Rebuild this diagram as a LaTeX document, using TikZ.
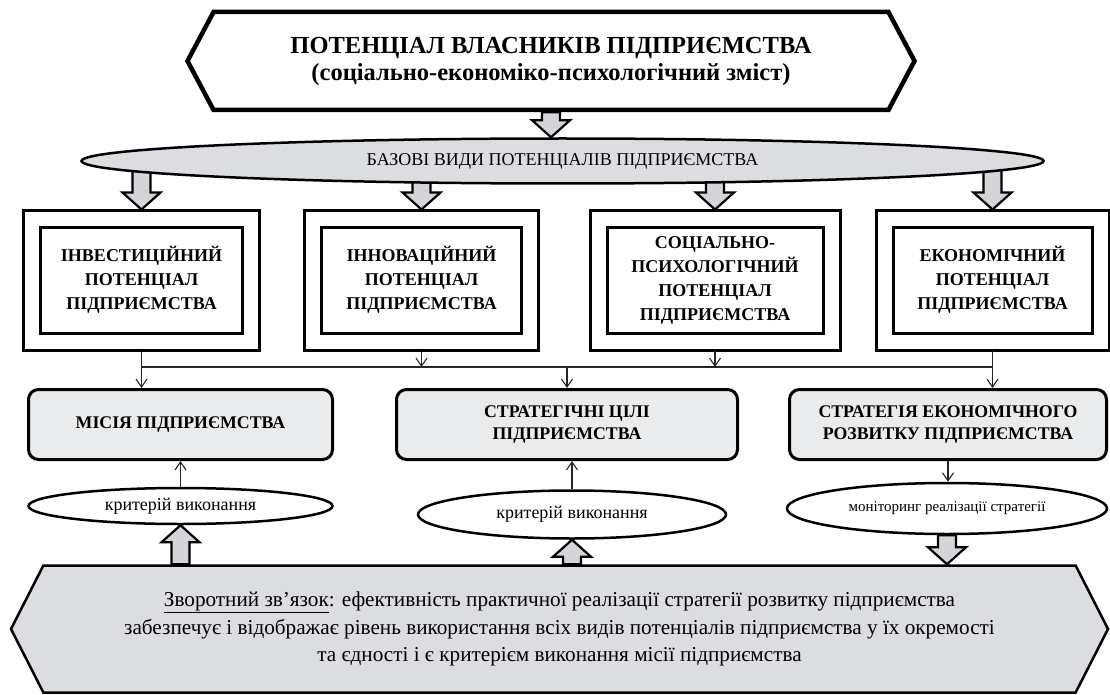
\documentclass[tikz,border=0pt]{standalone}
\usepackage{fontspec}
\setmainfont{Liberation Serif}
\usetikzlibrary{shapes, arrows.meta, positioning, calc, backgrounds}

\definecolor{lightgr}{RGB}{220,221,224}
\definecolor{boxgr}{RGB}{234,235,237}
\definecolor{arrgr}{RGB}{212,213,216}

\newcommand{\bigarrow}[2]{\draw[bigarr] let \p1=(#1), \p2=(#2), \p3=($(#2)!17pt!(#1)$) in
	(\x2-9pt,\y1) -- (\x2-9pt,\y3) -- (\x2-19pt,\y3) -- (\x2,\y2) -- (\x2+19pt,\y3) -- (\x2+9pt,\y3) -- (\x2+9pt,\y1) -- cycle;}

\tikzset{
	bigarr/.style={draw, line width=2.2pt, fill=arrgr},
	link/.style={draw=black!85, line width=1.1pt},
	linkto/.style={link, -{Straight Barb[length=8pt,width=11pt]}},
	head/.style={signal, signal to=west and east, draw, align=center},
	pot/.style={draw, line width=3pt, double, double distance=14pt, minimum width=#1, minimum height=123pt, outer sep=9pt, align=center, font=\fontsize{18}{24}\selectfont\bfseries},
	goal/.style={draw, line width=3pt, rounded corners=10pt, fill=boxgr, minimum width=#1, minimum height=70pt, align=center, font=\fontsize{17.8}{22.5}\selectfont\bfseries},
	crit/.style={ellipse, draw, line width=2.5pt, inner sep=0pt, font=\fontsize{18}{21}\selectfont}
}

\begin{document}
\begin{tikzpicture}[x=1pt, y=-1pt]
				\useasboundingbox (0,0) rectangle (1110,695);
				\node[head, signal pointer angle=124, line width=4.5pt, minimum width=727pt, minimum height=98pt, font=\fontsize{24.5}{27}\selectfont\bfseries] (top) at (551,61)
					{ПОТЕНЦІАЛ ВЛАСНИКІВ ПІДПРИЄМСТВА\\(соціально-економіко-психологічний зміст)};
				\node[crit, fill=lightgr, minimum width=962pt, minimum height=45pt] (base) at (562.5,161) {БАЗОВІ ВИДИ ПОТЕНЦІАЛІВ ПІДПРИЄМСТВА};
				\foreach \nm/\cx/\bw/\txt in {
					b1/141.5/219/{ІНВЕСТИЦІЙНИЙ\\ПОТЕНЦІАЛ\\ПІДПРИЄМСТВА},
					b2/421.5/217/{ІННОВАЦІЙНИЙ\\ПОТЕНЦІАЛ\\ПІДПРИЄМСТВА},
					b3/715/233/{СОЦІАЛЬНО-\\ПСИХОЛОГІЧНИЙ\\ПОТЕНЦІАЛ\\ПІДПРИЄМСТВА},
					b4/992.5/216/{ЕКОНОМІЧНИЙ\\ПОТЕНЦІАЛ\\ПІДПРИЄМСТВА}}{
				\node[pot=\bw pt] (\nm) at (\cx,280) {\txt};
				}
				\node[goal=304pt] (mis) at (180.5,424.5) {МІСІЯ ПІДПРИЄМСТВА};
				\node[goal=341pt] (aim) at (567,424.5) {СТРАТЕГІЧНІ ЦІЛІ\\ПІДПРИЄМСТВА};
				\node[goal=317pt] (str) at (948,424.5) {СТРАТЕГІЯ ЕКОНОМІЧНОГО\\РОЗВИТКУ ПІДПРИЄМСТВА};
				\node[crit, minimum width=304pt, minimum height=36pt] (e1) at (180.5,506) {критерій виконання};
				\node[crit, minimum width=308pt, minimum height=48pt] (e2) at (572,514.5) {критерій виконання};
				\node[crit, minimum width=320pt, minimum height=51pt, font=\fontsize{15}{18}\selectfont] (e3) at (947,508.5) {моніторинг реалізації стратегії};
				\node[head, signal pointer angle=126, line width=2.5pt, fill=lightgr, minimum width=1097pt, minimum height=127pt, font=\fontsize{21.2}{27.5}\selectfont] (fb) at (559.5,629)
					{\underline{Зворотний зв’язок}: ефективність практичної реалізації стратегії розвитку підприємства\\
					забезпечує і відображає рівень використання всіх видів потенціалів підприємства у їх окремості\\
					та єдності і є критерієм виконання місії підприємства};
				\begin{scope}[on background layer]
				\foreach \nm in {b1,b2,b3,b4}{
					\coordinate (t\nm) at (\nm.north |- base.center);
					\bigarrow{t\nm}{\nm.north}
				}
				\end{scope}
				\coordinate (tt) at (top.south |- base.north);
				\bigarrow{top.south}{tt}
				\coordinate (u1) at (e1.south |- fb.north);
				\coordinate (u2) at (e2.south |- fb.north);
				\coordinate (d3) at (e3.south |- fb.north);
				\bigarrow{u1}{e1.south}
				\bigarrow{u2}{e2.south}
				\bigarrow{e3.south}{d3}
				\coordinate (bus) at (0,367);
				\draw[link] (b1.south |- bus) -- (b4.south |- bus);
				\draw[linkto] (b1.south) -- (b1.south |- mis.north);
				\draw[linkto] (b4.south) -- (b4.south |- str.north);
				\draw[linkto] (b2.south) -- (b2.south |- bus);
				\draw[linkto] (b3.south) -- (b3.south |- bus);
				\draw[linkto] (aim.north |- bus) -- (aim.north);
				\draw[linkto] (e1.north) -- (e1.north |- mis.south);
				\draw[linkto] (e2.north) -- (e2.north |- aim.south);
				\draw[linkto] (str.south) -- (str.south |- e3.north);
			\end{tikzpicture}
\end{document}
